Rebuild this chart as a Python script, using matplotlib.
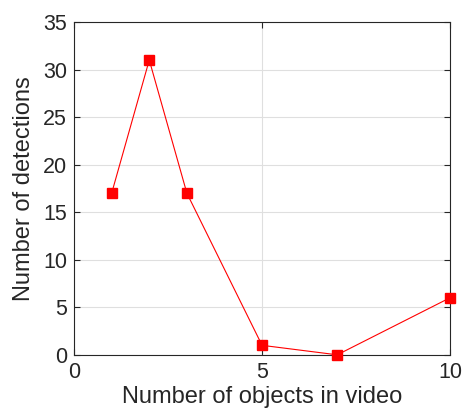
import matplotlib
matplotlib.use('Agg')
import matplotlib.pyplot as plt

plt.rcParams['font.family'] = ['Liberation Sans', 'DejaVu Sans']

objects = [1, 2, 3, 5, 7, 10]
detections = [17, 31, 17, 1, 0, 6]
xticks = [0, 5, 10]
yticks = [0, 5, 10, 15, 20, 25, 30, 35]

fig = plt.figure(figsize=(4.63, 4.15), dpi=100)
ax = fig.add_axes([0.16, 0.145, 0.812, 0.802])

ax.plot(objects, detections, color='#ff0000', lw=0.8, marker='s',
        markersize=6.5, markeredgecolor='#ff0000', clip_on=False, zorder=3)

ax.set_xlim(0, 10)
ax.set_ylim(0, 35)
ax.set_xticks(xticks)
ax.set_yticks(yticks)
ax.grid(True, color='#dfdfdf', lw=0.8)
ax.set_axisbelow(True)
ax.tick_params(direction='in', top=True, right=True, length=4, width=0.8,
               labelsize=15.5, colors='#262626', pad=5)
for s in ax.spines.values():
    s.set_color('#262626')
    s.set_linewidth(0.8)

ax.set_xlabel('Number of objects in video', fontsize=17, color='#262626', labelpad=2.5)
ax.set_ylabel('Number of detections', fontsize=17, color='#262626', labelpad=6)

fig.savefig('out.png', dpi=100)
